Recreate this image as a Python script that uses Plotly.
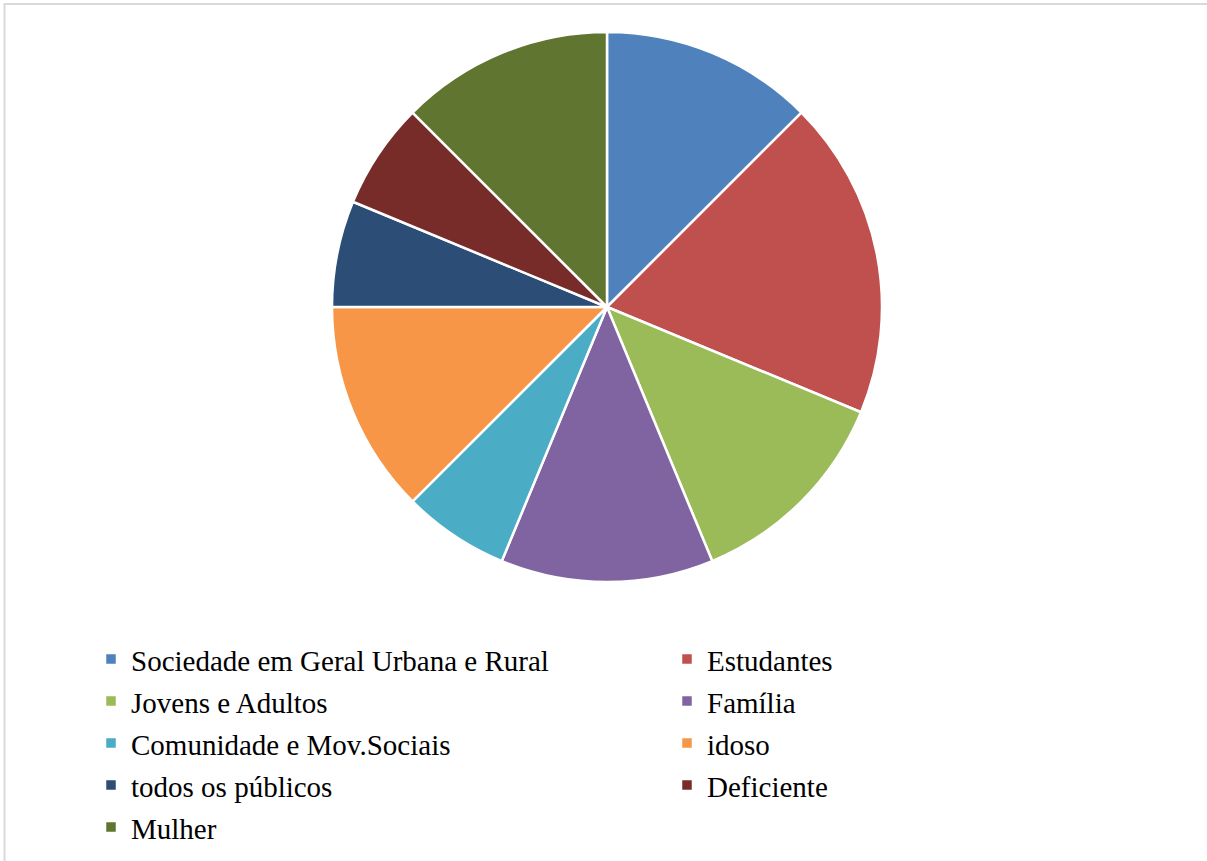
import plotly.graph_objects as go

categories = [
    "Sociedade em Geral Urbana e Rural",
    "Estudantes",
    "Jovens e Adultos",
    "Família",
    "Comunidade e Mov.Sociais",
    "idoso",
    "todos os públicos",
    "Deficiente",
    "Mulher",
]
values = [2, 3, 2, 2, 1, 2, 1, 1, 2]
colors = ["#4F81BD", "#C0504D", "#9BBB59", "#8064A2", "#4BACC6",
          "#F79646", "#2C4D75", "#772C2A", "#5F7530"]

W, H = 1207, 861
labels = [f'<span style="font-size:29px">{c}</span>' for c in categories]

fig = go.Figure(go.Pie(
    labels=labels,
    values=values,
    sort=False,
    direction="clockwise",
    rotation=0,
    marker=dict(colors=colors, line=dict(color="white", width=2.5)),
    textinfo="none",
    hoverinfo="label+percent",
    domain=dict(x=[0.1, 0.9058], y=[1 - 582 / H, 1 - 32 / H]),
))

fig.update_layout(
    width=W, height=H,
    margin=dict(l=0, r=0, t=0, b=0, autoexpand=False),
    paper_bgcolor="white",
    plot_bgcolor="white",
    font=dict(family="Liberation Serif, Times New Roman, serif", color="#000000"),
    showlegend=True,
    legend=dict(
        orientation="h",
        x=91 / W, xanchor="left",
        y=1 - 633 / H, yanchor="top",
        entrywidth=531,
        entrywidthmode="pixels",
        font=dict(size=30, family="Liberation Serif, Times New Roman, serif", color="#000000"),
        itemclick=False, itemdoubleclick=False,
        bgcolor="rgba(0,0,0,0)",
    ),
    shapes=[dict(type="rect", xref="paper", yref="paper",
                 x0=4.5 / W, x1=1.02, y0=-0.02, y1=1 - 4 / H,
                 line=dict(color="#D9D9D9", width=2), fillcolor="rgba(0,0,0,0)")],
)

fig.write_html("out.html", config={"displayModeBar": False},
               post_script="document.body.style.margin='0px';")
